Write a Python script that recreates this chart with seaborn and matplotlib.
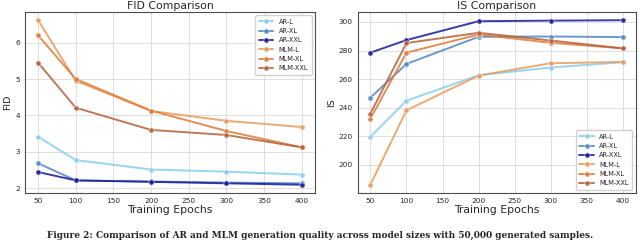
import pandas as pd
import matplotlib
matplotlib.use("Agg")
import matplotlib.pyplot as plt
import seaborn as sns

# data
epochs = [50, 100, 200, 300, 400]
models = ["AR-L", "AR-XL", "AR-XXL", "MLM-L", "MLM-XL", "MLM-XXL"]

fid_ar_l = [3.41, 2.77, 2.51, 2.45, 2.37]
fid_ar_xl = [2.68, 2.21, 2.18, 2.15, 2.13]
fid_ar_xxl = [2.44, 2.21, 2.17, 2.13, 2.09]
fid_mlm_l = [6.62, 4.95, 4.12, 3.85, 3.68]
fid_mlm_xl = [6.20, 5.00, 4.13, 3.57, 3.12]
fid_mlm_xxl = [5.45, 4.21, 3.60, 3.46, 3.12]

is_ar_l = [219.7, 244.9, 262.7, 268.1, 271.8]
is_ar_xl = [247.0, 270.6, 289.6, 289.8, 289.4]
is_ar_xxl = [278.5, 287.3, 300.5, 300.9, 301.2]
is_mlm_l = [186.1, 238.2, 262.5, 271.1, 272.0]
is_mlm_xl = [232.2, 278.5, 291.2, 285.4, 281.5]
is_mlm_xxl = [235.9, 285.2, 292.4, 287.0, 281.5]

colors = ["#87cdee", "#4f86c6", "#1a1a9a", "#e89a5c", "#dd7a38", "#b5603a"]

fid = [fid_ar_l, fid_ar_xl, fid_ar_xxl, fid_mlm_l, fid_mlm_xl, fid_mlm_xxl]
inc = [is_ar_l, is_ar_xl, is_ar_xxl, is_mlm_l, is_mlm_xl, is_mlm_xxl]

sns.set_style("whitegrid", {"axes.edgecolor": "0.3", "grid.color": "0.85"})

fig = plt.figure(figsize=(6.4, 2.42), dpi=100)
ax1 = fig.add_axes([0.039, 0.2025, 0.453, 0.748])
ax2 = fig.add_axes([0.559, 0.2025, 0.434, 0.748])

def draw(ax, series, title, ylabel, legend_loc):
    for name, vals, c in zip(models, series, colors):
        df = pd.DataFrame({"Epoch": epochs, "val": vals})
        sns.lineplot(data=df, x="Epoch", y="val", ax=ax, color=c, marker="o",
                     markersize=3.8, linewidth=1.4, alpha=0.85, label=name,
                     markeredgewidth=0.4)
    ax.set_title(title, fontsize=7.8, pad=2.5)
    ax.set_xlabel("Training Epochs", fontsize=7.8, labelpad=1)
    ax.set_ylabel(ylabel, fontsize=6.8, labelpad=2)
    ax.tick_params(labelsize=5.3, pad=1.5, length=2, width=0.6)
    ax.set_xticks([50, 100, 150, 200, 250, 300, 350, 400])
    for s in ax.spines.values():
        s.set_linewidth(0.8)
    ax.grid(linewidth=0.6)
    ax.legend(loc=legend_loc, fontsize=4.8, handlelength=2.2, labelspacing=0.5,
              borderpad=0.5, framealpha=0.9)

draw(ax1, fid, "FID Comparison", "FID", "upper right")
ax1.set_yticks([2, 3, 4, 5, 6])
draw(ax2, inc, "IS Comparison", "IS", "lower right")
ax2.set_yticks([200, 220, 240, 260, 280, 300])

# caption below the panels
fig.text(0.5, 0.008, "Figure 2: Comparison of AR and MLM generation quality across model sizes with 50,000 generated samples.",
         fontsize=6.5, fontweight="bold", family="DejaVu Serif", va="bottom", ha="center")

fig.savefig("out.png", dpi=100)
